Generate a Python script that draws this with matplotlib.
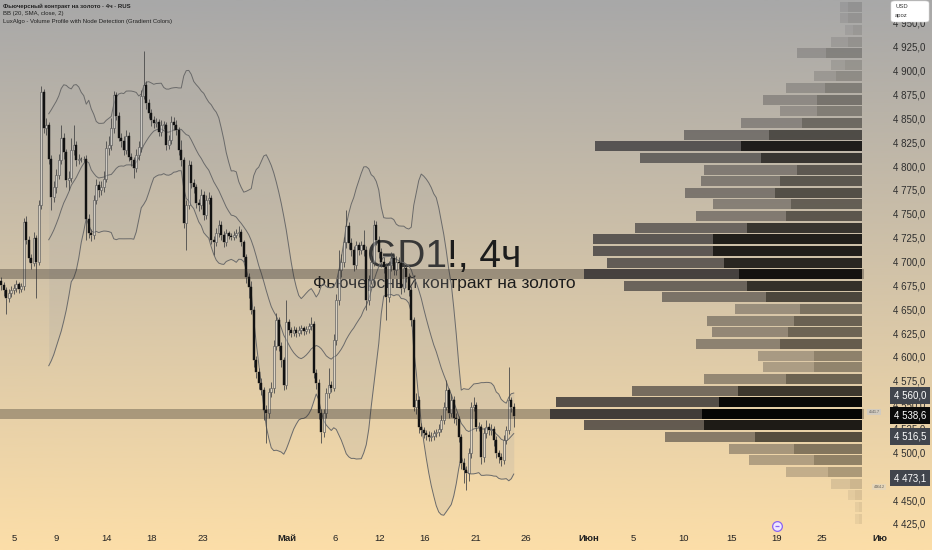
import numpy as np
import pandas as pd
import matplotlib
matplotlib.use('Agg')
import matplotlib.pyplot as plt
from matplotlib import transforms
from matplotlib.patches import FancyBboxPatch

plt.rcParams['font.family'] = ['Liberation Sans', 'DejaVu Sans']

# ---- data ----
first_open = 4680
closes = [4675, 4670, 4662, 4667, 4670, 4672, 4676, 4671, 4674, 4741,
          4723, 4704, 4699, 4725, 4700, 4759, 4878, 4840, 4843, 4808,
          4768, 4778, 4791, 4806, 4830, 4815, 4785, 4788, 4817, 4822,
          4806, 4808, 4807, 4808, 4745, 4730, 4728, 4765, 4780, 4775,
          4778, 4787, 4819, 4822, 4840, 4875, 4853, 4830, 4826, 4817,
          4832, 4810, 4806, 4798, 4812, 4820, 4874, 4885, 4866, 4856,
          4848, 4845, 4846, 4836, 4843, 4843, 4822, 4827, 4846, 4843,
          4838, 4817, 4806, 4740, 4759, 4801, 4782, 4778, 4761, 4759,
          4770, 4749, 4765, 4767, 4723, 4720, 4730, 4738, 4728, 4720,
          4730, 4727, 4726, 4728, 4730, 4731, 4720, 4705, 4684, 4673,
          4649, 4597, 4584, 4573, 4565, 4544, 4541, 4563, 4567, 4612,
          4639, 4612, 4597, 4571, 4637, 4628, 4625, 4628, 4625, 4628,
          4630, 4627, 4629, 4632, 4635, 4583, 4573, 4541, 4521, 4541,
          4562, 4571, 4568, 4618, 4660, 4691, 4700, 4720, 4737, 4719,
          4712, 4696, 4717, 4712, 4717, 4712, 4660, 4681, 4700, 4738,
          4723, 4710, 4700, 4694, 4663, 4696, 4704, 4691, 4700, 4698,
          4672, 4693, 4684, 4670, 4639, 4548, 4555, 4527, 4523, 4520,
          4518, 4516, 4517, 4520, 4521, 4525, 4534, 4548, 4565, 4541,
          4555, 4536, 4535, 4516, 4489, 4482, 4478, 4499, 4548, 4550,
          4527, 4527, 4495, 4520, 4527, 4523, 4525, 4513, 4499, 4495,
          4492, 4513, 4523, 4555, 4548, 4538.6]
highs = [4684, 4679, 4673, 4671, 4674, 4677, 4681, 4679, 4678, 4746,
         4748, 4727, 4708, 4731, 4728, 4764, 4884, 4881, 4850, 4846,
         4812, 4784, 4797, 4813, 4843, 4835, 4818, 4795, 4830, 4843,
         4826, 4813, 4810, 4811, 4812, 4750, 4734, 4770, 4787, 4784,
         4784, 4795, 4826, 4832, 4850, 4879, 4878, 4857, 4835, 4832,
         4838, 4836, 4814, 4810, 4818, 4826, 4880, 4921, 4889, 4870,
         4860, 4853, 4850, 4849, 4848, 4847, 4846, 4833, 4853, 4852,
         4848, 4841, 4827, 4810, 4765, 4806, 4805, 4787, 4781, 4766,
         4776, 4774, 4770, 4773, 4770, 4727, 4735, 4744, 4742, 4732,
         4734, 4732, 4730, 4732, 4734, 4737, 4734, 4723, 4708, 4688,
         4680, 4653, 4601, 4588, 4578, 4569, 4550, 4568, 4574, 4618,
         4646, 4642, 4616, 4600, 4660, 4640, 4631, 4632, 4631, 4632,
         4634, 4633, 4633, 4636, 4642, 4638, 4587, 4577, 4545, 4546,
         4567, 4588, 4575, 4624, 4666, 4712, 4708, 4726, 4754, 4741,
         4725, 4716, 4722, 4721, 4722, 4733, 4716, 4686, 4706, 4744,
         4742, 4727, 4714, 4705, 4698, 4701, 4710, 4708, 4706, 4705,
         4702, 4699, 4697, 4688, 4674, 4642, 4562, 4559, 4531, 4527,
         4524, 4522, 4521, 4524, 4525, 4530, 4539, 4553, 4576, 4568,
         4561, 4559, 4541, 4538, 4519, 4494, 4486, 4505, 4553, 4558,
         4553, 4532, 4530, 4526, 4534, 4531, 4530, 4528, 4517, 4503,
         4499, 4518, 4528, 4590, 4558, 4552]
lows = [4670, 4664, 4645, 4658, 4663, 4666, 4668, 4667, 4668, 4670,
        4718, 4700, 4692, 4695, 4662, 4696, 4755, 4835, 4833, 4802,
        4754, 4762, 4772, 4786, 4802, 4808, 4778, 4775, 4783, 4812,
        4800, 4802, 4804, 4804, 4723, 4725, 4722, 4724, 4760, 4768,
        4770, 4773, 4783, 4812, 4817, 4835, 4848, 4826, 4820, 4812,
        4813, 4805, 4800, 4788, 4794, 4806, 4815, 4870, 4860, 4850,
        4842, 4840, 4841, 4832, 4832, 4839, 4817, 4818, 4823, 4838,
        4833, 4812, 4800, 4735, 4712, 4755, 4777, 4772, 4756, 4753,
        4755, 4744, 4745, 4760, 4718, 4707, 4716, 4726, 4723, 4715,
        4716, 4724, 4723, 4723, 4725, 4726, 4716, 4700, 4678, 4662,
        4645, 4590, 4578, 4566, 4560, 4534, 4510, 4536, 4558, 4562,
        4607, 4606, 4590, 4565, 4566, 4623, 4621, 4622, 4621, 4622,
        4624, 4623, 4624, 4625, 4628, 4578, 4566, 4535, 4510, 4516,
        4536, 4557, 4563, 4564, 4613, 4655, 4684, 4694, 4714, 4713,
        4706, 4690, 4692, 4707, 4708, 4706, 4649, 4655, 4676, 4695,
        4717, 4704, 4694, 4688, 4639, 4658, 4690, 4686, 4686, 4692,
        4666, 4668, 4679, 4664, 4633, 4543, 4540, 4520, 4517, 4515,
        4513, 4512, 4512, 4513, 4516, 4517, 4521, 4530, 4544, 4536,
        4537, 4531, 4529, 4511, 4483, 4468, 4461, 4470, 4494, 4543,
        4522, 4522, 4488, 4490, 4515, 4518, 4518, 4507, 4494, 4489,
        4486, 4488, 4509, 4519, 4542, 4527]

price_ticks = [4425, 4450, 4475, 4500, 4525, 4550, 4575, 4600, 4625, 4650, 4675,
               4700, 4725, 4750, 4775, 4800, 4825, 4850, 4875, 4900, 4925, 4950]
date_pos = [5.1, 21.9, 42.3, 60.3, 80.7, 114.3, 133.5, 151.5, 169.5, 189.9,
            209.9, 235.1, 252.7, 273.1, 292.3, 310.3, 328.3, 351.5]
date_labels = ['5', '9', '14', '18', '23', 'Май', '6', '12', '16', '21',
               '26', 'Июн', '5', '10', '15', '19', '25', 'Ию']
month_labels = ['Май', 'Июн', 'Ию']

# volume profile rows, from the top bin downwards
vp_top = 4973.2
vp_step = 12.19
vp_total = [22, 22, 17, 31, 65, 31, 48, 76, 99, 82, 121, 178, 268, 223, 158, 161,
            177, 149, 166, 228, 270, 270, 256, 279, 239, 200, 127, 155, 150, 166,
            104, 99, 158, 231, 307, 313, 279, 197, 133, 113, 76, 31, 14, 7, 7]
vp_dark = [14, 14, 9, 14, 36, 17, 26, 37, 45, 45, 60, 93, 121, 101, 65, 82,
           87, 71, 76, 115, 149, 149, 138, 123, 115, 96, 62, 68, 74, 82,
           48, 48, 76, 124, 143, 160, 158, 107, 68, 48, 34, 12, 7, 3, 3]
node_rows = [23, 35]

last_values = [4560.0, 4538.6, 4516.5, 4473.1]
last_colors = ['#41454d', '#0b0b0b', '#41454d', '#41454d']


def fmt(v):
    return f"{v:,.1f}".replace(',', ' ').replace('.', ',')


W, H = 932, 550
fig = plt.figure(figsize=(W / 100, H / 100), dpi=100)

# background gradient (gray on top -> peach at the bottom)
bg = fig.add_axes([0, 0, 1, 1], zorder=0)
t = np.linspace(0, 1, 300)[:, None, None]
top_c = np.array([168, 168, 168]) / 255
bot_c = np.array([252, 222, 168]) / 255
bg.imshow(top_c + (bot_c - top_c) * t, aspect='auto', extent=[0, 1, 0, 1], origin='upper')
bg.set_xlim(0, 1)
bg.set_ylim(0, 1)
bg.axis('off')

rect = [0, 22 / H, 864 / W, 528 / H]
ax = fig.add_axes(rect, zorder=1)
ax.set_facecolor('none')
ax.set_xlim(-0.5, 345.1)
ax.set_ylim(4420.8, 4974.1)
for s in ax.spines.values():
    s.set_visible(False)

closes = np.array(closes, dtype=float)
highs = np.array(highs, dtype=float)
lows = np.array(lows, dtype=float)
n = len(closes)
idx = np.arange(n)
opens = np.r_[first_open, closes[:-1]]
up = closes >= opens
top_b = np.maximum(opens, closes)
bot_b = np.minimum(opens, closes)
body_h = np.maximum(top_b - bot_b, 0.9)

# bollinger bands
s = pd.Series(closes)
basis = s.rolling(20).mean()
dev = s.rolling(20).std(ddof=0)
upper = basis + 2 * dev
lower = basis - 2 * dev
ax.fill_between(idx, lower, upper, color='#a6a6a6', alpha=0.2, lw=0, zorder=1)
for b in (basis, upper, lower):
    ax.plot(idx, b, color='#6a6a6a', lw=0.7, zorder=1.5)

# candles
ax.vlines(idx, top_b, highs, color='#4a4a4a', lw=0.6, zorder=2)
ax.vlines(idx, lows, bot_b, color='#4a4a4a', lw=0.6, zorder=2)
ax.bar(idx[up], body_h[up], bottom=bot_b[up], width=0.62, color=(0.9, 0.9, 0.9, 0.45),
       edgecolor='#595959', lw=0.45, zorder=3)
ax.bar(idx[~up], body_h[~up], bottom=bot_b[~up], width=0.62, color='#121212',
       edgecolor='#121212', lw=0.3, zorder=3)

# node lines
for k in node_rows:
    c = vp_top - vp_step * (k + 0.5)
    ax.axhspan(c - 5.3, c + 5.3, color='#2b2622', alpha=0.33, lw=0, zorder=4)

# watermark
ax.text(444 / W, 1 - 257 / H, 'GD1!, 4ч', transform=fig.transFigure, ha='center', va='center',
        fontsize=28, color='#1c1c1c', zorder=0.5)
ax.text(444 / W, 1 - 283 / H, 'Фьючерсный контракт на золото', transform=fig.transFigure,
        ha='center', va='center', fontsize=12.5, color='#1c1c1c', zorder=0.5)

# price axis
ax.set_yticks(price_ticks)
ax.set_yticklabels([fmt(v) for v in price_ticks])
ax.yaxis.tick_right()
ax.tick_params(axis='y', length=0, pad=21, labelsize=7, labelcolor='#2e2e2e')
ax.set_xticks([])

# time axis
tr = transforms.blended_transform_factory(ax.transData, ax.transAxes)
for p, lab in zip(date_pos, date_labels):
    ax.text(p, -0.019, lab, transform=tr, ha='center', va='center', fontsize=6.8,
            color='#222222', fontweight='bold' if lab in month_labels else 'normal',
            clip_on=False)

# volume profile
axv = fig.add_axes(rect, sharey=ax, zorder=2)
axv.set_facecolor('none')
axv.set_xlim(864, -2)
axv.axis('off')
vmax = max(vp_total)
for k, (tot, dk) in enumerate(zip(vp_total, vp_dark)):
    c = vp_top - vp_step * (k + 0.5)
    a = 0.06 + 0.91 * tot / vmax
    axv.barh(c, dk, left=0, height=vp_step * 0.86, color='black', alpha=a, lw=0)
    axv.barh(c, tot - dk, left=dk, height=vp_step * 0.86, color='#14141c', alpha=0.72 * a, lw=0)

# last value labels on the price scale
trl = transforms.blended_transform_factory(fig.transFigure, ax.transData)
for v, col in zip(last_values, last_colors):
    axv.text(910 / W, v, fmt(v), transform=trl, ha='center', va='center', fontsize=7,
             color='white', zorder=10, clip_on=False,
             bbox=dict(boxstyle='square,pad=0.35', fc=col, ec='none'))

# small node tags next to the scale
fig.text(874 / W, 1 - 412 / H, '4541.7', fontsize=2.6, color='#555', ha='center', va='center',
         bbox=dict(boxstyle='square,pad=0.3', fc='#d2cbbf', ec='none'))
fig.text(879 / W, 1 - 487 / H, '4464.2', fontsize=2.6, color='#555', ha='center', va='center',
         bbox=dict(boxstyle='square,pad=0.3', fc='#e6d6b8', ec='none'))

# legend lines top-left
fig.text(3 / W, 1 - 6 / H, 'Фьючерсный контракт на золото · 4ч · RUS', fontsize=4.3,
         fontweight='bold', color='#222', va='center')
fig.text(3 / W, 1 - 13.5 / H, 'BB (20, SMA, close, 2)', fontsize=4.3, color='#222', va='center')
fig.text(3 / W, 1 - 21 / H, 'LuxAlgo - Volume Profile with Node Detection (Gradient Colors)',
         fontsize=4.3, color='#222', va='center')

# currency box top-right
box = FancyBboxPatch((891 / W, 1 - 22 / H), 38 / W, 21 / H, boxstyle='round,pad=0,rounding_size=0.004',
                     transform=fig.transFigure, fc='white', ec='#dddddd', lw=0.4)
fig.patches.append(box)
fig.text(895 / W, 1 - 6 / H, 'USD', fontsize=4.2, color='#333', va='center')
fig.text(895 / W, 1 - 15.5 / H, 'apoz', fontsize=4.2, color='#333', va='center')

# events icon on the time scale
bg.plot(777 / W, 1 - 526 / H, marker='o', ms=7, mfc='#efe8ff', mec='#8b63f2', mew=0.9)
bg.plot(777 / W, 1 - 526 / H, marker='_', ms=3.5, mec='#8b63f2', mew=0.9)

fig.savefig('out.png', dpi=100)
